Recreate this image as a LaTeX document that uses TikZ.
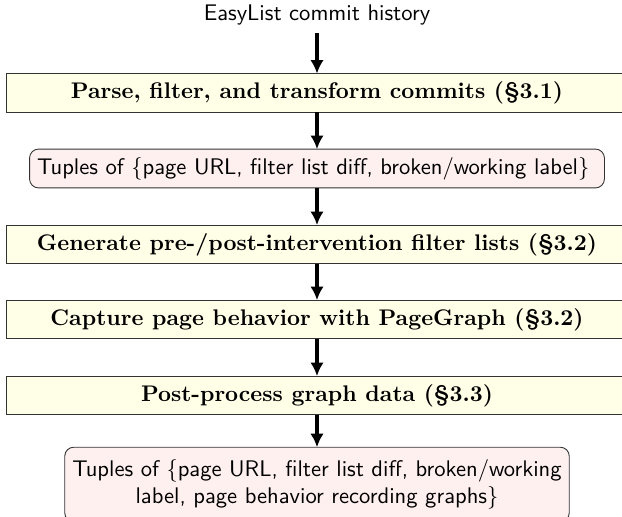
\documentclass[tikz,border=0pt]{standalone}
\usetikzlibrary{arrows.meta}

\begin{document}
\begin{tikzpicture}[x=0.4425pt,y=-0.4425pt,
  stagebox/.style={draw=black!80,fill=yellow!10,minimum width=275.2pt,inner ysep=3.6pt,font=\bfseries,outer sep=0pt},
  databox/.style={draw=black!80,fill=red!6,rounded corners=4pt,inner ysep=3.6pt,font=\sffamily,align=center,outer sep=0pt},
  flow/.style={-{Latex[length=6pt,width=6pt]},line width=1.5pt}]
  \useasboundingbox (0,0) rectangle (622,517);

  \node (history) at (317,15) { \sffamily EasyList commit history };

  \node [stagebox] (parse) at (317,93) { Parse, filter, and transform commits (\S3.1) };
  \node [databox] (tuples) at (317,168.5) { Tuples of $\{$page URL, filter list diff, broken/working label$\}$ };
  \node [stagebox] (generate) at (317,244.5) { Generate pre-/post-intervention filter lists (\S3.2) };
  \node [stagebox] (capture) at (317,319.5) { Capture page behavior with PageGraph (\S3.2) };
  \node [stagebox] (postproc) at (317,395.5) { Post-process graph data (\S3.3) };
  \node [databox,minimum height=33pt] (graphs) at (317,484.5) { Tuples of $\{$page URL, filter list diff, broken/working \\ label, page behavior recording graphs$\}$ };

  \draw [flow] (history) -- (parse);
  \draw [flow] (parse) -- (tuples);
  \draw [flow] (tuples) -- (generate);
  \draw [flow] (generate) -- (capture);
  \draw [flow] (capture) -- (postproc);
  \draw [flow] (postproc) -- (graphs);
\end{tikzpicture}
\end{document}
